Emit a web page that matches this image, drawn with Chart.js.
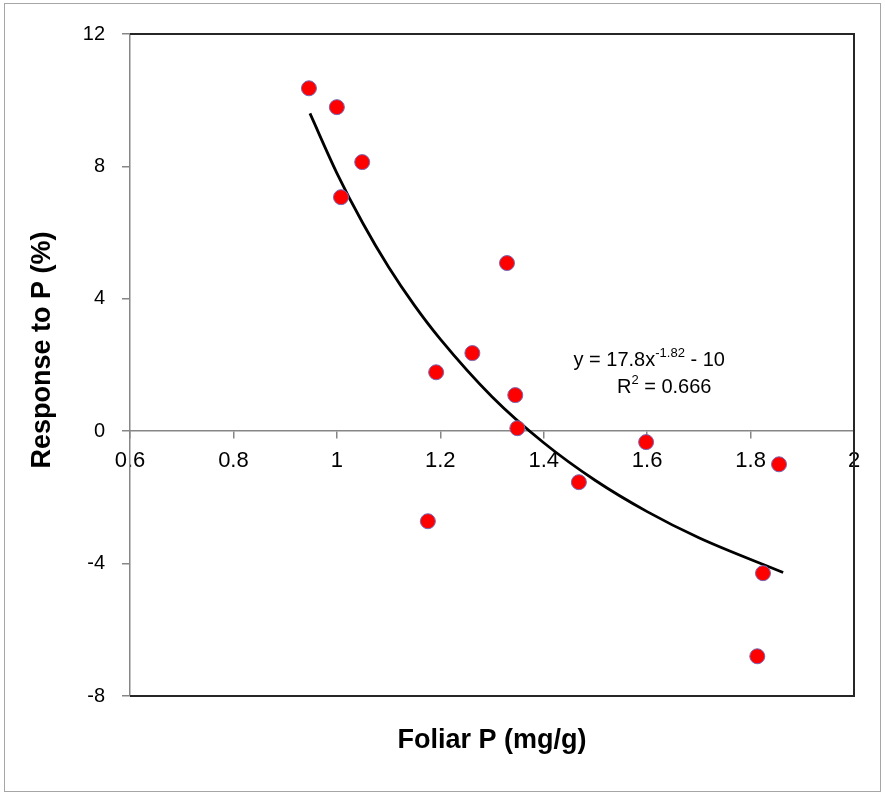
<!DOCTYPE html>
<html lang="en">
<head>
    <meta charset="UTF-8">
    <title>Response to P vs Foliar P</title>
    <script src="https://cdn.jsdelivr.net/npm/chart.js"></script>
    <style>
        html, body { margin: 0; padding: 0; background: #fff; }
        canvas { display: block; }
    </style>
</head>
<body>
<canvas id="responseChart" width="885" height="793"></canvas>

<script>
    // observed points
    const foliarP = [0.946, 1.000, 1.049, 1.008, 1.329, 1.262, 1.192, 1.345, 1.349, 1.598, 1.468, 1.176, 1.855, 1.824, 1.813];
    const responsePct = [10.36, 9.79, 8.13, 7.07, 5.08, 2.36, 1.78, 1.09, 0.09, -0.33, -1.54, -2.72, -1.00, -4.29, -6.80];

    // power trendline
    const trendX = [0.948, 1.0, 1.05, 1.1, 1.15, 1.2, 1.3, 1.4, 1.5, 1.6, 1.7, 1.863];
    const trendY = [9.60, 7.80, 6.29, 4.96, 3.80, 2.78, 1.04, -0.35, -1.49, -2.43, -3.22, -4.27];

    const xTicks = [0.6, 0.8, 1, 1.2, 1.4, 1.6, 1.8, 2];
    const yTicks = [-8, -4, 0, 4, 8, 12];

    const xTitle = 'Foliar P (mg/g)';
    const yTitle = 'Response to P (%)';
    const eqText = ['y = 17.8x', '-1.82', ' - 10'];
    const r2Text = ['R', '2', ' = 0.666'];

    const FONT = "'Liberation Sans', Arial, sans-serif";

    const frameAndText = {
        id: 'frameAndText',
        beforeDraw(chart) {
            const ctx = chart.ctx;
            ctx.save();
            ctx.fillStyle = '#fff';
            ctx.fillRect(0, 0, chart.width, chart.height);
            ctx.strokeStyle = '#a6a6a6';
            ctx.lineWidth = 1;
            ctx.strokeRect(4.5, 3.5, 876, 788);
            ctx.restore();
        },
        beforeDatasetsDraw(chart) {
            const ctx = chart.ctx;
            const a = chart.chartArea;
            ctx.save();
            // plot area border (top, right, bottom); left is the axis line
            ctx.strokeStyle = '#262626';
            ctx.lineWidth = 2;
            ctx.beginPath();
            ctx.moveTo(a.left, a.top);
            ctx.lineTo(a.right, a.top);
            ctx.lineTo(a.right, a.bottom);
            ctx.lineTo(a.left, a.bottom);
            ctx.stroke();
            ctx.restore();
        },
        afterDraw(chart) {
            const ctx = chart.ctx;
            const a = chart.chartArea;
            const xs = chart.scales.x, ys = chart.scales.y;
            ctx.save();
            ctx.fillStyle = '#000';
            ctx.textBaseline = 'middle';

            // axis titles
            ctx.font = 'bold 27px ' + FONT;
            ctx.textAlign = 'center';
            ctx.fillText(xTitle, (a.left + a.right) / 2, 741);
            ctx.save();
            ctx.translate(43, 350);
            ctx.rotate(-Math.PI / 2);
            ctx.fillText(yTitle, 0, 0);
            ctx.restore();

            // trendline equation
            const drawSup = (parts, cx, cy) => {
                ctx.font = '20px ' + FONT;
                const w0 = ctx.measureText(parts[0]).width;
                const w2 = ctx.measureText(parts[2]).width;
                ctx.font = '13px ' + FONT;
                const w1 = ctx.measureText(parts[1]).width;
                let x = cx - (w0 + w1 + w2) / 2;
                ctx.textAlign = 'left';
                ctx.font = '20px ' + FONT;
                ctx.fillText(parts[0], x, cy);
                x += w0;
                ctx.font = '13px ' + FONT;
                ctx.fillText(parts[1], x, cy - 7);
                x += w1;
                ctx.font = '20px ' + FONT;
                ctx.fillText(parts[2], x, cy);
            };
            drawSup(eqText, xs.getPixelForValue(1.604), ys.getPixelForValue(2.15));
            drawSup(r2Text, xs.getPixelForValue(1.633), ys.getPixelForValue(1.33));
            ctx.restore();
        }
    };

    const chartConfig = {
        type: 'scatter',
        data: {
            datasets: [{
                label: 'Observed',
                data: foliarP.map((x, i) => ({ x: x, y: responsePct[i] })),
                backgroundColor: '#ff0000',
                borderColor: '#7a68b5',
                borderWidth: 1,
                pointRadius: 7.5,
                order: 1
            }, {
                label: 'Power trend',
                type: 'line',
                data: trendX.map((x, i) => ({ x: x, y: trendY[i] })),
                borderColor: '#000',
                borderWidth: 2.8,
                pointRadius: 0,
                fill: false,
                cubicInterpolationMode: 'monotone',
                order: 2
            }]
        },
        options: {
            responsive: false,
            animation: false,
            layout: { padding: { top: 34, right: 31, bottom: 97, left: 0 } },
            plugins: {
                legend: { display: false },
                tooltip: { enabled: false }
            },
            scales: {
                x: {
                    type: 'linear',
                    position: { y: 0 },
                    min: 0.6,
                    max: 2,
                    afterBuildTicks: scale => { scale.ticks = xTicks.map(v => ({ value: v })); },
                    grid: { drawOnChartArea: false, tickLength: 7, color: '#868686', lineWidth: 1.5 },
                    border: { color: '#868686', width: 1.5 },
                    ticks: {
                        color: '#000',
                        font: { family: FONT, size: 22 },
                        padding: 10,
                        maxRotation: 0,
                        autoSkip: false,
                        callback: v => String(v)
                    }
                },
                y: {
                    type: 'linear',
                    position: 'left',
                    min: -8,
                    max: 12,
                    afterBuildTicks: scale => { scale.ticks = yTicks.map(v => ({ value: v })); },
                    afterFit: scale => { scale.width = 130; },
                    grid: { drawOnChartArea: false, tickLength: 8, color: '#868686', lineWidth: 1.5 },
                    border: { color: '#868686', width: 1.5 },
                    ticks: {
                        color: '#000',
                        font: { family: FONT, size: 20 },
                        padding: 17,
                        autoSkip: false
                    }
                }
            }
        },
        plugins: [frameAndText]
    };

    new Chart(document.getElementById('responseChart').getContext('2d'), chartConfig);
</script>
</body>
</html>
